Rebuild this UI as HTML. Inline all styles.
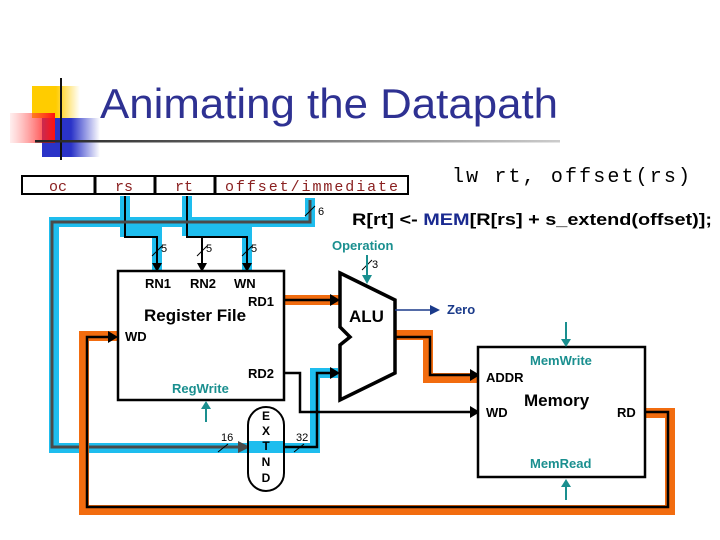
<!DOCTYPE html>
<html><head><meta charset="utf-8"><style>
html,body{margin:0;padding:0;background:#fff;}
svg{display:block;}
.b{font-weight:bold;font-size:13px;fill:#000;font-family:"Liberation Sans",sans-serif;}
.t{font-weight:bold;font-size:13px;fill:#1a8f8f;font-family:"Liberation Sans",sans-serif;}
.m{font-family:"Liberation Mono",monospace;font-size:15px;fill:#8a2020;}
.s{font-family:"Liberation Sans",sans-serif;}
</style></head><body>
<svg width="720" height="540" viewBox="0 0 720 540" xmlns="http://www.w3.org/2000/svg">
<defs>
<linearGradient id="gy" x1="0" x2="1"><stop offset="0" stop-color="#ffcc00"/><stop offset="0.5" stop-color="#ffcc00"/><stop offset="1" stop-color="#ffcc00" stop-opacity="0"/></linearGradient>
<linearGradient id="gb" x1="0" x2="1"><stop offset="0" stop-color="#2a33c8"/><stop offset="0.5" stop-color="#2a33c8"/><stop offset="1" stop-color="#2a33c8" stop-opacity="0"/></linearGradient>
<linearGradient id="gr" x1="1" x2="0"><stop offset="0" stop-color="#ff1010"/><stop offset="1" stop-color="#ff6060" stop-opacity="0.1"/></linearGradient>
<linearGradient id="gl" x1="0" x2="1"><stop offset="0" stop-color="#222"/><stop offset="1" stop-color="#ccc"/></linearGradient>
</defs>
<!-- logo -->
<rect x="32" y="86" width="48" height="32" fill="url(#gy)"/>
<rect x="42" y="118" width="58" height="39" fill="url(#gb)"/>
<rect x="10" y="113" width="45" height="30" fill="url(#gr)"/>
<line x1="61" y1="78" x2="61" y2="160" stroke="#111" stroke-width="2"/>
<rect x="35" y="140" width="525" height="2.5" fill="url(#gl)"/>
<text class="s" x="100" y="118" font-size="42" fill="#2e3192" textLength="458" lengthAdjust="spacingAndGlyphs">Animating the Datapath</text>

<!-- instruction -->
<rect x="22" y="176" width="386" height="18" fill="#fff" stroke="#000" stroke-width="2"/>
<line x1="95" y1="176" x2="95" y2="194" stroke="#000" stroke-width="3"/>
<line x1="155" y1="176" x2="155" y2="194" stroke="#000" stroke-width="3"/>
<line x1="215" y1="176" x2="215" y2="194" stroke="#000" stroke-width="3"/>
<text class="m" x="49" y="191">oc</text>
<text class="m" x="115" y="191">rs</text>
<text class="m" x="175" y="191">rt</text>
<text class="m" x="225" y="191" textLength="173">offset/immediate</text>
<text x="452" y="182" style="font-family:'Liberation Mono',monospace;font-size:20px" fill="#000" textLength="238">lw rt, offset(rs)</text>
<text class="s" x="352" y="225" font-size="17" font-weight="bold" fill="#000" textLength="360" lengthAdjust="spacingAndGlyphs">R[rt] &lt;- <tspan fill="#1a2a90">MEM</tspan>[R[rs] + s_extend(offset)];</text>

<!-- blue wide paths -->
<g fill="none" stroke="#1ebdee" stroke-width="10" stroke-linejoin="miter">
<polyline points="125,196 125,232 157,232 157,272"/>
<polyline points="187,196 187,231 247,231 247,272"/>
<polyline points="310,198 310,222 54,222 54,448 315,448 315,373 338,373"/>
</g>
<g fill="none" stroke="#000" stroke-width="2">
<polyline points="125,196 125,237 157,237 157,264"/>
<polyline points="187,196 187,237 247,237 247,264"/>
<polyline points="202,237 202,264"/>
</g>
<g fill="none" stroke="#4a4a4a" stroke-width="3">
<polyline points="310,200 310,222 52,222 52,447 240,447"/>
</g>
<polygon points="238,441 250,447 238,453" fill="#4a4a4a"/>
<polyline points="284,447 317,447 317,373 332,373" fill="none" stroke="#000" stroke-width="2.5"/>
<polygon points="330,367 340,373 330,379" fill="#000"/>
<g fill="#000">
<polygon points="152,263 162,263 157,272"/>
<polygon points="197,263 207,263 202,272"/>
<polygon points="242,263 252,263 247,272"/>
</g>
<g stroke="#000" stroke-width="1">
<line x1="152" y1="256" x2="162" y2="246"/>
<line x1="197" y1="256" x2="207" y2="246"/>
<line x1="242" y1="256" x2="252" y2="246"/>
<line x1="305" y1="216" x2="315" y2="206"/>
<line x1="362" y1="270" x2="372" y2="260"/>
<line x1="218" y1="452" x2="228" y2="444"/>
<line x1="294" y1="452" x2="304" y2="444"/>
</g>
<g font-size="11" fill="#000" class="s">
<text x="161" y="252">5</text><text x="206" y="252">5</text><text x="251" y="252">5</text>
<text x="318" y="215">6</text><text x="372" y="268">3</text>
<text x="221" y="441">16</text><text x="296" y="441">32</text>
</g>

<!-- orange paths -->
<g fill="none" stroke="#f26c0f" stroke-width="10">
<line x1="284" y1="300" x2="340" y2="300"/>
<polyline points="395,335 428,335 428,378 482,378"/>
<polyline points="645,413 670,413 670,510 84,510 84,336 118,336"/>
</g>
<g fill="none" stroke="#000" stroke-width="2.5">
<line x1="284" y1="300" x2="332" y2="300"/>
<polyline points="395,337 430,337 430,375 472,375"/>
<polyline points="645,412 668,412 668,507 87,507 87,337 110,337"/>
<polyline points="284,373 300,373 300,412 472,412"/>
</g>
<g fill="#000">
<polygon points="330,294 340,300 330,306"/>
<polygon points="470,369 480,375 470,381"/>
<polygon points="470,406 480,412 470,418"/>
<polygon points="108,331 118,337 108,343"/>
</g>

<!-- register file -->
<rect x="118" y="271" width="166" height="129" fill="#fff" stroke="#000" stroke-width="2.5"/>
<text class="b" x="145" y="288">RN1</text>
<text class="b" x="190" y="288">RN2</text>
<text class="b" x="234" y="288">WN</text>
<text class="b" x="248" y="306">RD1</text>
<text class="s" x="144" y="321" font-size="17" font-weight="bold">Register File</text>
<text class="b" x="125" y="341">WD</text>
<text class="b" x="248" y="378">RD2</text>
<text class="t" x="172" y="393">RegWrite</text>
<line x1="206" y1="422" x2="206" y2="408" stroke="#1a8f8f" stroke-width="2"/>
<polygon points="201,409 211,409 206,401" fill="#1a8f8f"/>

<!-- extend -->
<rect x="248" y="407" width="36" height="84" rx="18" fill="#fff" stroke="#000" stroke-width="2"/>
<rect x="249" y="441" width="34" height="12" fill="#1ebdee"/>
<g font-size="12" font-weight="bold" text-anchor="middle" class="s">
<text x="266" y="420">E</text><text x="266" y="435">X</text><text x="266" y="450">T</text><text x="266" y="466">N</text><text x="266" y="482">D</text>
</g>

<!-- ALU -->
<polygon points="340,273 395,300 395,373 340,400 340,345 350,337 340,327" fill="#fff" stroke="#000" stroke-width="3.5" stroke-linejoin="miter"/>
<text class="s" x="349" y="322" font-size="17" font-weight="bold">ALU</text>
<text class="t" x="332" y="250">Operation</text>
<line x1="367" y1="255" x2="367" y2="276" stroke="#1a8f8f" stroke-width="2"/>
<polygon points="362,275 372,275 367,284" fill="#1a8f8f"/>
<line x1="395" y1="310" x2="432" y2="310" stroke="#1a3a8a" stroke-width="1.5"/>
<polygon points="430,305 440,310 430,315" fill="#1a3a8a"/>
<text class="s" x="447" y="314" font-size="13" font-weight="bold" fill="#1a3a8a">Zero</text>

<!-- memory -->
<rect x="478" y="347" width="167" height="130" fill="#fff" stroke="#000" stroke-width="2.5"/>
<text class="t" x="530" y="365">MemWrite</text>
<text class="b" x="486" y="382">ADDR</text>
<text class="s" x="524" y="406" font-size="17" font-weight="bold">Memory</text>
<text class="b" x="486" y="417">WD</text>
<text class="b" x="617" y="417">RD</text>
<text class="t" x="530" y="468">MemRead</text>
<line x1="566" y1="322" x2="566" y2="340" stroke="#1a8f8f" stroke-width="2"/>
<polygon points="561,339 571,339 566,347" fill="#1a8f8f"/>
<line x1="566" y1="500" x2="566" y2="486" stroke="#1a8f8f" stroke-width="2"/>
<polygon points="561,487 571,487 566,479" fill="#1a8f8f"/>
</svg>
</body></html>
